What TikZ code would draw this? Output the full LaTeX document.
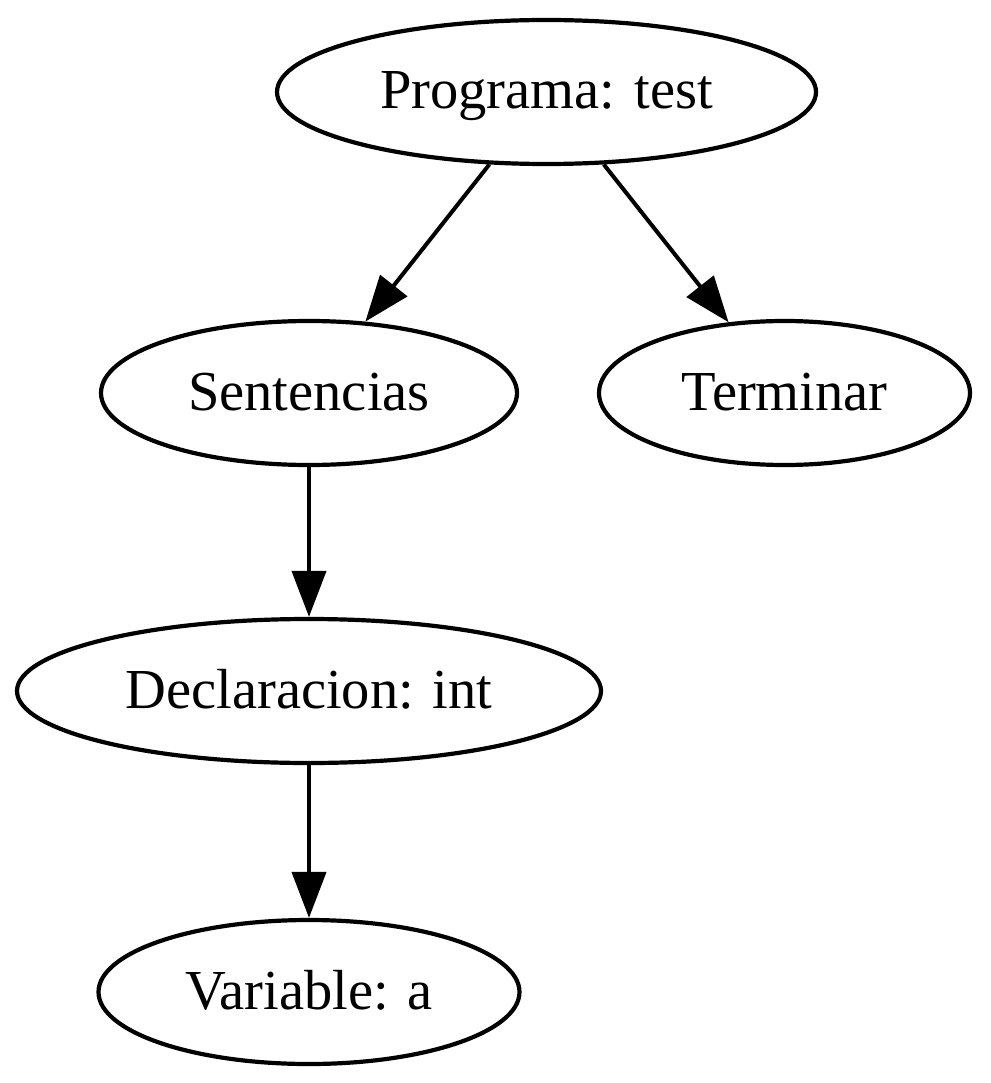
\documentclass[tikz,border=0pt]{standalone}
\usepackage{fontspec}
\setmainfont{Liberation Serif}
\usetikzlibrary{shapes.geometric,arrows.meta}
\begin{document}
\begin{tikzpicture}[x=1pt,y=-1pt,
  treenode/.style={draw,ellipse,line width=4.2pt,inner sep=0pt,minimum height=144pt,
    font=\fontsize{56.5}{60}\selectfont,text height=34pt,text depth=0pt},
  edge/.style={line width=4pt,-{Triangle[length=46pt,width=34pt]}}]
\useasboundingbox (0,0) rectangle (990,1083);
\node[treenode,minimum width=539pt] (prog) at (546.5,92) {Programa: test};
\node[treenode,minimum width=416pt] (sent) at (309,393) {Sentencias};
\node[treenode,minimum width=371pt] (term) at (784.5,393) {Terminar};
\node[treenode,minimum width=584pt] (decl) at (309,691) {Declaracion: int};
\node[treenode,minimum width=421pt] (var) at (309,992) {Variable: a};
\draw[edge] (prog) -- (sent);
\draw[edge] (prog) -- (term);
\draw[edge] (sent) -- (decl);
\draw[edge] (decl) -- (var);
\end{tikzpicture}
\end{document}
